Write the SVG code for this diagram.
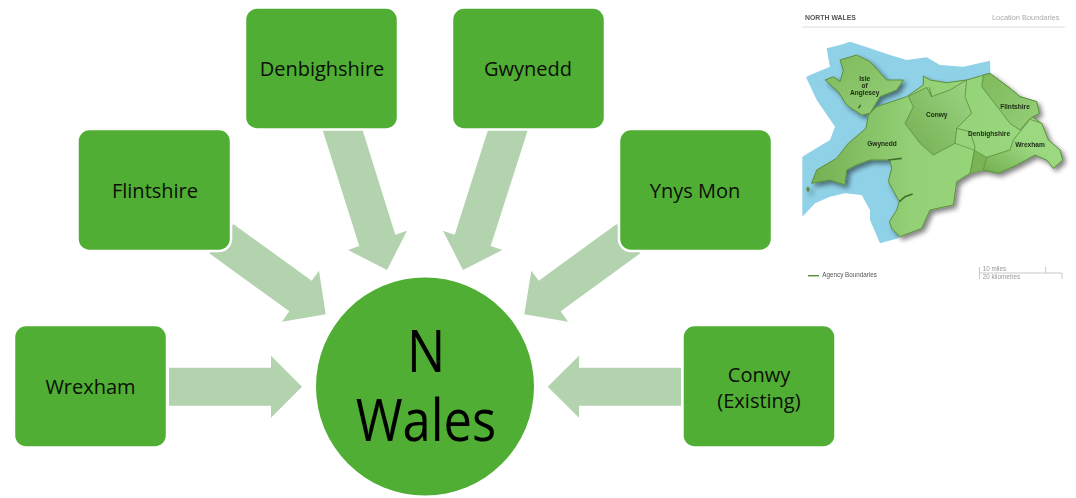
<svg xmlns="http://www.w3.org/2000/svg" width="1076" height="498" viewBox="0 0 1076 498">
<style>
.box{fill:#4fae33;stroke:#fff;stroke-width:2.5}
.arrow{fill:#b3d3af}
.lbl{font-family:"Open Sans","Noto Sans",sans-serif;font-size:20px;fill:#0b0f08;text-anchor:middle}
.big{font-family:"Open Sans","Noto Sans",sans-serif;font-size:58px;fill:#000;text-anchor:middle}
.m{font-family:"Liberation Sans",Arial,sans-serif;font-size:6.6px;font-weight:bold;fill:#1c2a14;text-anchor:middle}
.g{font-family:"Liberation Sans",Arial,sans-serif;font-size:6.3px;fill:#555}
.r{stroke:#5c8f3c;stroke-width:2.5;stroke-linejoin:round}
</style>
<defs>
<linearGradient id="gLand" x1="0" y1="0" x2="1" y2="0"><stop offset="0" stop-color="#76b052"/><stop offset=".4" stop-color="#93d076"/><stop offset="1" stop-color="#9bda80"/></linearGradient>
<linearGradient id="gDark" x1="0" y1="0" x2="1" y2="1"><stop offset="0" stop-color="#7fb95c"/><stop offset="1" stop-color="#96d078"/></linearGradient>
<linearGradient id="gCon" x1="0" y1="1" x2="1" y2="0"><stop offset="0" stop-color="#74ad50"/><stop offset="1" stop-color="#9cd684"/></linearGradient>
<linearGradient id="gWrex" x1="0" y1="1" x2="1" y2="0"><stop offset="0" stop-color="#74ad50"/><stop offset=".55" stop-color="#9bd880"/></linearGradient>
<filter id="shadow" x="-10%" y="-10%" width="125%" height="125%"><feGaussianBlur in="SourceAlpha" stdDeviation="8"/><feOffset dx="9" dy="10"/><feComponentTransfer><feFuncA type="linear" slope=".5"/></feComponentTransfer><feMerge><feMergeNode/><feMergeNode in="SourceGraphic"/></feMerge></filter>
<filter id="soft"><feGaussianBlur stdDeviation=".4"/></filter>
</defs>

<g id="connectors">
<polygon class="arrow" points="169,367.7 271,367.7 271,355.7 302,386.7 271,417.7 271,405.7 169,405.7"/>
<polygon class="arrow" points="681,367.7 579,367.7 579,355.7 547.7,386.7 579,417.7 579,405.7 681,405.7"/>
<polygon class="arrow" points="233.3,224 311.7,280.7 319,270.7 325.7,314.3 282,321.7 289.3,311.3 209.3,253.3"/>
<polygon class="arrow" points="321,125 361,125 395.3,234.7 407,230.7 387,270 348,250 359.3,246"/>
<polygon class="arrow" points="529.4,125 489.6,125 454.7,234.7 443,230.7 463,270 502.3,250 490.7,246"/>
<polygon class="arrow" points="616.7,224 538.7,280.7 531.3,270.7 524.3,314.3 568,321.7 560.7,311.3 640.3,253.3"/>
</g>

<g id="node-wrexham"><rect class="box" x="14" y="325" width="153" height="122.500" rx="12"/><text class="lbl" x="90.500" y="394">Wrexham</text></g>
<g id="node-flintshire"><rect class="box" x="77.500" y="129" width="153.500" height="122" rx="12"/><text class="lbl" x="155" y="198">Flintshire</text></g>
<g id="node-denbighshire"><rect class="box" x="245" y="7.500" width="153" height="122" rx="12"/><text class="lbl" x="322" y="76">Denbighshire</text></g>
<g id="node-gwynedd"><rect class="box" x="452" y="7.500" width="153" height="122" rx="12"/><text class="lbl" x="528" y="76">Gwynedd</text></g>
<g id="node-ynys-mon"><rect class="box" x="619" y="129" width="153" height="122" rx="12"/><text class="lbl" x="695" y="198">Ynys Mon</text></g>
<g id="node-conwy"><rect class="box" x="682.500" y="325" width="153" height="122.500" rx="12"/><text class="lbl" x="759" y="382">Conwy</text><text class="lbl" x="759" y="408">(Existing)</text></g>
<g id="node-n-wales"><circle cx="425" cy="386.500" r="109" fill="#4fae33"/><text class="big" transform="translate(426 0) scale(.875 1)"><tspan x="0" y="372">N</tspan><tspan x="0" y="441">Wales</tspan></text></g>

<g id="map">
<g filter="url(#soft)">
<g transform="translate(790 0) scale(.33333)">
<polygon fill="#8fd2e8" points="110,145 150,135 180,125 240,145 300,165 350,180 410,172 450,195 520,200 600,182 602,240 500,400 400,640 325,715 270,730 240,660 240,630 215,585 165,580 120,590 75,610 37,650 37,470 70,450 120,420 135,380 80,300 48,232 60,225 120,200 115,175"/>
<g filter="url(#shadow)">
<polygon fill="url(#gLand)" stroke="#5c8f3c" stroke-width="3" stroke-linejoin="round" points="600,220 660,265 690,290 740,305 748,340 725,350 755,370 775,420 810,450 818,480 790,505 770,480 735,465 680,495 625,520 580,510 540,520 500,545 490,615 420,630 395,685 330,710 305,685 298,665 320,630 328,605 295,545 305,505 300,480 240,480 200,495 170,510 165,555 120,540 65,550 80,510 140,475 175,430 228,385 235,345 260,320 350,290 400,255 400,228 420,240 470,248 530,240"/>
<polygon fill="url(#gDark)" stroke="#5c8f3c" stroke-width="3" stroke-linejoin="round" points="150,180 200,165 240,185 290,240 340,240 320,270 270,290 240,340 215,345 170,315 145,275 105,240 130,230 150,245 160,210"/>
<ellipse cx="54" cy="568" rx="5" ry="8" fill="#5c8f3c"/>
</g>
<polygon class="r" fill="url(#gCon)" points="355,290 410,262 425,290 480,270 530,240 525,290 545,340 500,385 495,430 430,465 390,430 345,370 370,320"/>
<polygon class="r" fill="url(#gDark)" points="580,225 600,220 660,265 690,290 740,305 748,340 720,355 690,390 660,370 610,305 575,260"/>
<polygon fill="#7ab456" points="552,450 590,472 580,510 540,520"/>
<polygon class="r" fill="url(#gWrex)" points="720,358 755,370 775,420 810,450 818,480 790,505 770,480 735,465 680,495 625,520 580,510 590,472 660,450 670,420"/>
<path d="M500,385 L540,395 L555,440 L548,480 L540,520" fill="none" stroke="#5c8f3c" stroke-width="2.500"/>
<path d="M495,430 L552,450 L590,472" fill="none" stroke="#5c8f3c" stroke-width="2"/>
<path d="M295,480 L335,475 M328,605 L345,590 L368,582 M205,325 L212,315" fill="none" stroke="#426f2a" stroke-width="5"/>
<path d="M418,262 L425,290" fill="none" stroke="#426f2a" stroke-width="2"/>
</g>
<path d="M802.500,27 H1065" stroke="#dcdcdc" stroke-width="1"/>
<path d="M808,275.700 H819" stroke="#5f8f3c" stroke-width="1.500"/>
<path d="M979.500,267 V279 M979.500,273 H1062 V279 M1045.700,267 V273" fill="none" stroke="#bbb" stroke-width=".8"/>
</g>
<g filter="url(#soft)">
<text x="805" y="19.700" font-family="Liberation Sans,Arial,sans-serif" font-size="6.900" font-weight="bold" fill="#555">NORTH WALES</text>
<text x="992" y="19.700" font-family="Liberation Sans,Arial,sans-serif" font-size="7.400" fill="#aaa">Location Boundaries</text>
<text class="m" x="864.700" y="81">Isle</text>
<text class="m" x="864.700" y="88">of</text>
<text class="m" x="864.700" y="95">Anglesey</text>
<text class="m" x="936.700" y="116.700">Conwy</text>
<text class="m" x="1015" y="108.700">Flintshire</text>
<text class="m" x="989" y="136.300">Denbighshire</text>
<text class="m" x="1030" y="147">Wrexham</text>
<text class="m" x="882" y="146.300">Gwynedd</text>
<text class="g" x="822.300" y="277.300">Agency Boundaries</text>
<text class="g" x="982.700" y="270.700" style="fill:#999">10 miles</text>
<text class="g" x="982.700" y="279" style="fill:#999">20 kilometres</text>
</g>
</g>
</svg>
